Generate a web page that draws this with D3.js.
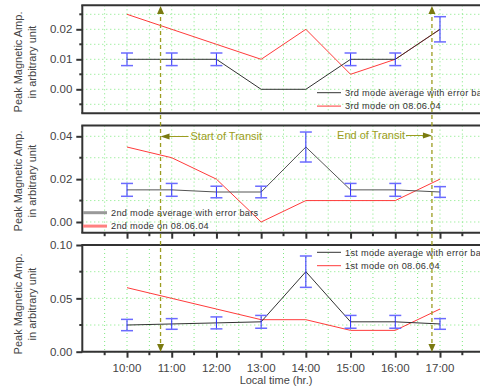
<!DOCTYPE html>
<html>
<head>
<meta charset="utf-8">
<script src="https://cdn.jsdelivr.net/npm/d3@7"></script>
<style>
  body { margin: 0; background: #fff; }
  svg { font-family: "Liberation Sans", Arial, sans-serif; }
</style>
</head>
<body>
<svg id="chart" width="480" height="390"></svg>
<script>
// data
const hours = [10, 11, 12, 13, 14, 15, 16, 17];
const hourLabels = ["10:00", "11:00", "12:00", "13:00", "14:00", "15:00", "16:00", "17:00"];

const mode3Avg = [0.010, 0.010, 0.010, 0.000, 0.000, 0.010, 0.010, 0.020];
const mode3Err = [0.0021, 0.0021, 0.0021, 0, 0, 0.0021, 0.0021, 0.0042];
const mode3Day = [0.025, 0.020, 0.015, 0.010, 0.020, 0.005, 0.010, 0.020];

const mode2Avg = [0.015, 0.015, 0.014, 0.014, 0.035, 0.015, 0.015, 0.014];
const mode2Err = [0.003, 0.003, 0.0027, 0.0027, 0.007, 0.003, 0.003, 0.0025];
const mode2Day = [0.035, 0.030, 0.020, 0.000, 0.010, 0.010, 0.010, 0.020];

const mode1Avg = [0.025, 0.026, 0.027, 0.028, 0.075, 0.028, 0.028, 0.026];
const mode1Err = [0.0053, 0.005, 0.0056, 0.006, 0.0147, 0.006, 0.006, 0.005];
const mode1Day = [0.060, 0.050, 0.040, 0.030, 0.030, 0.020, 0.020, 0.040];

const transitTimes = [10.75, 16.82];
const transitLabels = ["Start of Transit", "End of Transit"];

const svg = d3.select("#chart");

const x = d3.scaleLinear().domain([9, 18]).range([82.3, 484.7]);
const halfHours = d3.range(9.5, 18, 0.5);

const panels = [
  {
    avg: mode3Avg, err: mode3Err, day: mode3Day,
    names: ["3rd mode average with error bars", "3rd mode on 08.06.04"],
    y: d3.scaleLinear().domain([-0.008, 0.028]).range([113.3, 5.3]),
    major: [0, 0.01, 0.02], minor: [-0.005, 0.005, 0.015, 0.025],
    legend: { x: 317, y: 92.7 }, labelY: 62, xTicks: false, avgColor: "#333", legendThick: false
  },
  {
    avg: mode2Avg, err: mode2Err, day: mode2Day,
    names: ["2nd mode average with error bars", "2nd mode on 08.06.04"],
    y: d3.scaleLinear().domain([-0.005, 0.045]).range([232.7, 125.6]),
    major: [0, 0.02, 0.04], minor: [0.01, 0.03],
    legend: { x: 83, y: 212.7 }, labelY: 181, xTicks: true, avgColor: "#555", legendThick: true
  },
  {
    avg: mode1Avg, err: mode1Err, day: mode1Day,
    names: ["1st mode average with error bars", "1st mode on 08.06.04"],
    y: d3.scaleLinear().domain([0, 0.1]).range([351.7, 245]),
    major: [0, 0.05, 0.1], minor: [0.025, 0.075],
    legend: { x: 317, y: 252.3 }, labelY: 304, xTicks: true, avgColor: "#333", legendThick: false
  }
];

const line = yScale => d3.line().x((d, i) => x(hours[i])).y(d => yScale(d));

panels.forEach((p, pi) => {
  const g = svg.append("g");
  const [yBot, yTop] = p.y.range();

  // grid
  g.selectAll("line.vgrid").data(halfHours).enter().append("line")
    .attr("x1", d => x(d)).attr("x2", d => x(d))
    .attr("y1", yTop).attr("y2", yBot)
    .attr("stroke", "#7ee87e").attr("stroke-width", 1)
    .attr("stroke-dasharray", "1,3");
  g.selectAll("line.hgrid").data(p.major.concat(p.minor)).enter().append("line")
    .attr("x1", x.range()[0]).attr("x2", x.range()[1])
    .attr("y1", d => p.y(d)).attr("y2", d => p.y(d))
    .attr("stroke", "#7ee87e").attr("stroke-width", 1)
    .attr("stroke-dasharray", "1,3");

  // measured day
  g.append("path").attr("d", line(p.y)(p.day))
    .attr("fill", "none").attr("stroke", "#ff3b3b").attr("stroke-width", 1);

  // average
  g.append("path").attr("d", line(p.y)(p.avg))
    .attr("fill", "none").attr("stroke", p.avgColor).attr("stroke-width", 1);

  // error bars
  p.avg.forEach((v, i) => {
    if (p.err[i] <= 0) return;
    const cx = x(hours[i]);
    const y1 = p.y(v + p.err[i]), y2 = p.y(v - p.err[i]);
    g.append("line").attr("x1", cx).attr("x2", cx).attr("y1", y1).attr("y2", y2)
      .attr("stroke", "#2a2aff").attr("stroke-width", 1);
    [y1, y2].forEach(yy => {
      g.append("line").attr("x1", cx - 6).attr("x2", cx + 6).attr("y1", yy).attr("y2", yy)
        .attr("stroke", "#6b6bff").attr("stroke-width", 1.5);
    });
  });

  // left axis
  const yAxis = g.append("g").attr("transform", `translate(${x.range()[0]},0)`);
  yAxis.call(d3.axisLeft(p.y).tickValues(p.major).tickFormat(d3.format(".2f")).tickSize(6).tickSizeOuter(0))
    .call(a => a.select(".domain").remove());
  yAxis.selectAll(".tick line").attr("stroke", "#333").attr("stroke-width", 2);
  yAxis.selectAll(".tick text").attr("x", -10).attr("fill", "#444")
    .attr("font-size", "11.5px").attr("font-family", "Liberation Sans, Arial, sans-serif");
  yAxis.selectAll("line.minor").data(p.minor).enter().append("line")
    .attr("x1", -3).attr("x2", 0).attr("y1", d => p.y(d)).attr("y2", d => p.y(d))
    .attr("stroke", "#333").attr("stroke-width", 2);

  // frame
  g.append("line").attr("x1", x.range()[0]).attr("x2", x.range()[0]).attr("y1", yTop).attr("y2", yBot)
    .attr("stroke", "#333").attr("stroke-width", 2);
  [yTop, yBot].forEach(yy => {
    g.append("line").attr("x1", x.range()[0] - 1).attr("x2", x.range()[1]).attr("y1", yy).attr("y2", yy)
      .attr("stroke", "#333").attr("stroke-width", 2);
  });

  // bottom ticks
  if (p.xTicks) {
    const xa = g.append("g").attr("transform", `translate(0,${yBot})`)
      .call(d3.axisBottom(x).tickValues(hours).tickSize(6).tickFormat(""));
    xa.select(".domain").remove();
    xa.selectAll(".tick line").attr("stroke", "#333").attr("stroke-width", 2);
    xa.selectAll("line.minor").data(halfHours.filter(h => h % 1 !== 0)).enter().append("line")
      .attr("x1", d => x(d)).attr("x2", d => x(d)).attr("y1", 0).attr("y2", 3.5)
      .attr("stroke", "#333").attr("stroke-width", 2);
    if (pi === 2) {
      xa.selectAll("text.lab").data(hours).enter().append("text")
        .attr("x", d => x(d)).attr("y", 20).attr("text-anchor", "middle")
        .attr("fill", "#444").attr("font-size", "11.5px").text((d, i) => hourLabels[i]);
    }
  }

  // y label
  const lab = g.append("text").attr("transform", `translate(0,${p.labelY}) rotate(-90)`)
    .attr("text-anchor", "middle").attr("fill", "#444").attr("font-size", "11px");
  lab.append("tspan").attr("x", 0).attr("y", 22).text("Peak Magnetic Amp.");
  lab.append("tspan").attr("x", 0).attr("y", 35.5).text("in arbitrary unit");

  // legend
  const lg = g.append("g").attr("transform", `translate(${p.legend.x},${p.legend.y})`);
  const cols = p.legendThick ? ["#999", "#ff8080"] : ["#333", "#ff3b3b"];
  p.names.forEach((nm, i) => {
    lg.append("line").attr("x1", 0).attr("x2", 24).attr("y1", i * 13.4).attr("y2", i * 13.4)
      .attr("stroke", cols[i]).attr("stroke-width", p.legendThick ? 3 : 1);
    lg.append("text").attr("x", 28).attr("y", i * 13.4).attr("dy", "0.35em")
      .attr("font-size", "9.2px").attr("fill", "#333").attr("letter-spacing", "0.3px").text(nm);
  });
});

// x axis title
svg.append("text").attr("x", 276).attr("y", 384).attr("text-anchor", "middle")
  .attr("fill", "#444").attr("font-size", "11px").text("Local time (hr.)");

// transit markers
const olive = "#9c9c20";
const tTop = 6, tBot = 352;
transitTimes.forEach(t => {
  svg.append("line").attr("x1", x(t)).attr("x2", x(t)).attr("y1", tTop + 4).attr("y2", tBot - 4)
    .attr("stroke", olive).attr("stroke-width", 1.3).attr("stroke-dasharray", "4,3");
  svg.append("path")
    .attr("d", `M${x(t)},${tTop}L${x(t) - 3.5},${tTop + 8}L${x(t) + 3.5},${tTop + 8}Z`)
    .attr("fill", "#7a7a10");
  svg.append("path")
    .attr("d", `M${x(t)},${tBot}L${x(t) - 3.5},${tBot - 8}L${x(t) + 3.5},${tBot - 8}Z`)
    .attr("fill", "#7a7a10");
});

// transit labels with arrows
const ay = 136.5;
const sx = x(transitTimes[0]), ex = x(transitTimes[1]);
svg.append("line").attr("x1", sx + 8).attr("x2", sx + 28).attr("y1", ay).attr("y2", ay)
  .attr("stroke", olive).attr("stroke-width", 1);
svg.append("path").attr("d", `M${sx},${ay}L${sx + 9},${ay - 3}L${sx + 9},${ay + 3}Z`).attr("fill", "#7a7a10");
svg.append("text").attr("x", sx + 30).attr("y", ay).attr("dy", "0.35em")
  .attr("fill", olive).attr("font-size", "11px").text(transitLabels[0]);
svg.append("line").attr("x1", ex - 26).attr("x2", ex - 8).attr("y1", ay - 1).attr("y2", ay - 1)
  .attr("stroke", olive).attr("stroke-width", 1);
svg.append("path").attr("d", `M${ex},${ay - 1}L${ex - 9},${ay - 4}L${ex - 9},${ay + 2}Z`).attr("fill", "#7a7a10");
svg.append("text").attr("x", ex - 27).attr("y", ay - 1).attr("dy", "0.35em").attr("text-anchor", "end")
  .attr("fill", olive).attr("font-size", "11px").text(transitLabels[1]);
</script>
</body>
</html>
